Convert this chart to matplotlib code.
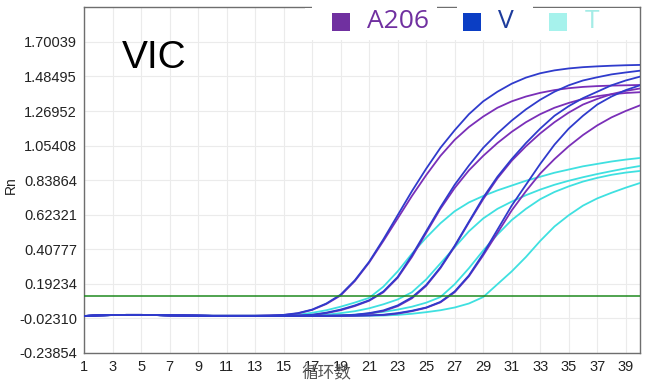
import matplotlib
matplotlib.use('Agg')
import matplotlib.pyplot as plt
from matplotlib.patches import Rectangle

cycles = list(range(1, 41))

# A206 (purple)
a206_1 = [-0.008, -0.004, -0.002, -0.001, -0.001, -0.002, -0.004, -0.005, -0.006, -0.007, -0.007, -0.007, -0.007,
          -0.005, -0.002, 0.008, 0.030, 0.067, 0.12, 0.21, 0.325, 0.46, 0.60, 0.74, 0.87, 0.99, 1.09, 1.17,
          1.235, 1.29, 1.33, 1.36, 1.383, 1.40, 1.412, 1.42, 1.425, 1.428, 1.43, 1.432]
a206_2 = [-0.008, -0.004, -0.002, -0.001, -0.001, -0.002, -0.004, -0.005, -0.006, -0.007, -0.007, -0.007, -0.007,
          -0.007, -0.007, -0.006, -0.002, 0.010, 0.028, 0.054, 0.087, 0.14, 0.23, 0.36, 0.51, 0.66, 0.79, 0.90,
          0.99, 1.07, 1.14, 1.20, 1.25, 1.29, 1.32, 1.345, 1.362, 1.374, 1.382, 1.387]
a206_3 = [-0.008, -0.004, -0.002, -0.001, -0.001, -0.002, -0.004, -0.005, -0.006, -0.007, -0.007, -0.007, -0.007,
          -0.007, -0.007, -0.007, -0.007, -0.007, -0.005, -0.002, 0.007, 0.023, 0.053, 0.102, 0.18, 0.29, 0.425,
          0.575, 0.72, 0.85, 0.96, 1.05, 1.13, 1.20, 1.26, 1.31, 1.345, 1.375, 1.395, 1.41]
a206_4 = [-0.008, -0.004, -0.002, -0.001, -0.001, -0.002, -0.004, -0.005, -0.006, -0.007, -0.007, -0.007, -0.007,
          -0.007, -0.007, -0.007, -0.007, -0.007, -0.007, -0.006, -0.004, -0.002, 0.007, 0.022, 0.043, 0.077, 0.14,
          0.24, 0.37, 0.51, 0.65, 0.77, 0.88, 0.97, 1.05, 1.12, 1.18, 1.23, 1.27, 1.305]

# V (blue)
v_1 = [-0.008, -0.004, -0.002, -0.001, -0.001, -0.002, -0.004, -0.005, -0.006, -0.007, -0.007, -0.007, -0.007,
       -0.005, -0.001, 0.010, 0.032, 0.070, 0.125, 0.215, 0.33, 0.47, 0.62, 0.77, 0.91, 1.04, 1.15, 1.25,
       1.33, 1.39, 1.44, 1.478, 1.505, 1.523, 1.535, 1.543, 1.548, 1.552, 1.555, 1.557]
v_2 = [-0.008, -0.004, -0.002, -0.001, -0.001, -0.002, -0.004, -0.005, -0.006, -0.007, -0.007, -0.007, -0.007,
       -0.007, -0.007, -0.005, 0.0, 0.013, 0.032, 0.058, 0.09, 0.145, 0.235, 0.37, 0.52, 0.67, 0.81, 0.93,
       1.04, 1.13, 1.21, 1.28, 1.34, 1.39, 1.43, 1.46, 1.48, 1.498, 1.51, 1.521]
v_3 = [-0.008, -0.004, -0.002, -0.001, -0.001, -0.002, -0.004, -0.005, -0.006, -0.007, -0.007, -0.007, -0.007,
       -0.007, -0.007, -0.007, -0.007, -0.006, -0.004, 0.0, 0.010, 0.027, 0.058, 0.108, 0.185, 0.295, 0.43,
       0.58, 0.73, 0.86, 0.97, 1.07, 1.16, 1.24, 1.30, 1.35, 1.39, 1.43, 1.46, 1.484]
v_4 = [-0.008, -0.004, -0.002, -0.001, -0.001, -0.002, -0.004, -0.005, -0.006, -0.007, -0.007, -0.007, -0.007,
       -0.007, -0.007, -0.007, -0.007, -0.007, -0.007, -0.006, -0.004, 0.0, 0.010, 0.025, 0.045, 0.080, 0.145,
       0.245, 0.38, 0.53, 0.68, 0.81, 0.94, 1.06, 1.16, 1.24, 1.31, 1.36, 1.40, 1.43]

# T (cyan)
t_1 = [-0.008, -0.004, -0.002, -0.001, -0.001, -0.002, -0.004, -0.005, -0.006, -0.007, -0.007, -0.007, -0.007,
       -0.007, -0.004, 0.0, 0.012, 0.028, 0.05, 0.076, 0.105, 0.175, 0.27, 0.38, 0.48, 0.57, 0.645, 0.70,
       0.74, 0.775, 0.805, 0.835, 0.86, 0.885, 0.905, 0.925, 0.94, 0.955, 0.967, 0.977]
t_2 = [-0.008, -0.004, -0.002, -0.001, -0.001, -0.002, -0.004, -0.005, -0.006, -0.007, -0.007, -0.007, -0.007,
       -0.007, -0.007, -0.006, -0.004, 0.0, 0.010, 0.022, 0.04, 0.065, 0.095, 0.14, 0.22, 0.32, 0.42, 0.52,
       0.60, 0.66, 0.705, 0.745, 0.78, 0.81, 0.835, 0.857, 0.877, 0.895, 0.912, 0.927]
t_3 = [-0.008, -0.004, -0.002, -0.001, -0.001, -0.002, -0.004, -0.005, -0.006, -0.007, -0.007, -0.007, -0.007,
       -0.007, -0.007, -0.007, -0.007, -0.006, -0.004, 0.0, 0.008, 0.018, 0.032, 0.05, 0.075, 0.11, 0.19,
       0.29, 0.40, 0.50, 0.59, 0.66, 0.72, 0.765, 0.80, 0.83, 0.853, 0.872, 0.886, 0.896]
t_4 = [-0.008, -0.004, -0.002, -0.001, -0.001, -0.002, -0.004, -0.005, -0.006, -0.007, -0.007, -0.007, -0.007,
       -0.007, -0.007, -0.007, -0.007, -0.007, -0.007, -0.007, -0.006, -0.005, -0.001, 0.006, 0.016, 0.028, 0.045,
       0.07, 0.11, 0.19, 0.27, 0.36, 0.46, 0.55, 0.62, 0.68, 0.725, 0.76, 0.792, 0.821]

threshold = 0.117

ytick_values = [-0.23854, -0.02310, 0.19234, 0.40777, 0.62321, 0.83864, 1.05408, 1.26952, 1.48495, 1.70039]
ytick_labels = ['-0.23854', '-0.02310', '0.19234', '0.40777', '0.62321', '0.83864',
                '1.05408', '1.26952', '1.48495', '1.70039']
xtick_values = list(range(1, 40, 2))

legend_names = ['A206', 'V', 'T']

purple = '#7a2fb8'
blue = '#2f3bcc'
cyan = '#3fe0e0'

W, H = 650, 384
fig = plt.figure(figsize=(6.5, 3.84), dpi=100)
ax = fig.add_axes([84 / W, 1 - 353 / H, (640 - 84) / W, (353 - 7) / H])

for s in [t_1, t_2, t_3, t_4]:
    ax.plot(cycles, s, color=cyan, lw=1.3, zorder=3)
for s in [a206_1, a206_2, a206_3, a206_4]:
    ax.plot(cycles, s, color=purple, lw=1.3, zorder=4)
for s in [v_1, v_2, v_3, v_4]:
    ax.plot(cycles, s, color=blue, lw=1.3, zorder=5)

ax.axhline(threshold, color='#1f8a1f', lw=1.1, zorder=6)

ax.set_xlim(1, 40)
ax.set_ylim(-0.23854, 1.918)
ax.set_yticks(ytick_values)
ax.set_yticklabels(ytick_labels)
ax.set_xticks(xtick_values)
ax.set_xticklabels([str(v) for v in xtick_values])
ax.tick_params(length=0, labelsize=10.5, labelcolor='#222222', pad=5)
for lab in ax.get_xticklabels() + ax.get_yticklabels():
    lab.set_fontfamily('Liberation Sans')
ax.grid(True, color='#ebebeb', lw=0.8, zorder=0)
for sp in ax.spines.values():
    sp.set_color('#6e6e6e')
    sp.set_linewidth(1.0)

# white legend band covering grid
fig.patches.append(Rectangle((305 / W, 1 - 40 / H), (639 - 305) / W, (40 - 8) / H,
                             transform=fig.transFigure, facecolor='white', edgecolor='none', zorder=2))
fig.patches.append(Rectangle((312 / W, 1 - 10 / H), (437 - 312) / W, 6 / H,
                             transform=fig.transFigure, facecolor='white', edgecolor='none', zorder=2))
fig.patches.append(Rectangle((457 / W, 1 - 10 / H), (533 - 457) / W, 6 / H,
                             transform=fig.transFigure, facecolor='white', edgecolor='none', zorder=2))

sq_colors = ['#7030a0', '#0b3ec4', '#a6f2ec']
txt_colors = ['#7030a0', '#1d3c9c', '#a4ece6']
sq_x = [332, 463, 549]
txt_x = [367, 498, 585]
for name, sx, tx, sc, tc in zip(legend_names, sq_x, txt_x, sq_colors, txt_colors):
    fig.patches.append(Rectangle((sx / W, 1 - 31 / H), 18 / W, 18 / H, transform=fig.transFigure,
                                 facecolor=sc, edgecolor='none', zorder=3))
    fig.text(tx / W, 1 - 22 / H, name, fontsize=19, color=tc, ha='left', va='center',
             family='Open Sans', zorder=4)

ax.text((122 - 84) / 556, (353 - 68) / 346, 'VIC', transform=ax.transAxes, fontsize=28,
        family='Liberation Sans', color='black', va='baseline', ha='left')

fig.text(11 / W, 1 - 185 / H, 'Rn', rotation=90, fontsize=10, family='Liberation Sans',
         ha='center', va='center', color='#222222')
fig.text(326 / W, 1 - 373 / H, '循环数', fontsize=12, color='#555555', ha='center', va='center',
         family=['Noto Sans CJK SC', 'DejaVu Sans'])

fig.savefig('out.png', dpi=100)
